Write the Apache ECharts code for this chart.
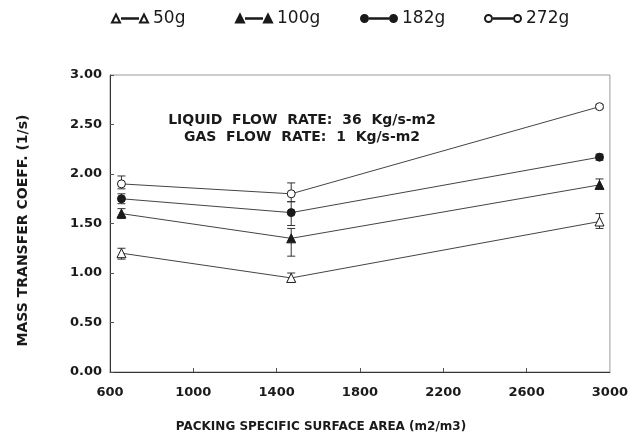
<!DOCTYPE html>
<html>
<head>
<meta charset="utf-8">
<script src="https://cdn.jsdelivr.net/npm/echarts@6/dist/echarts.min.js"></script>
<style>html,body{margin:0;padding:0;background:#fff;}#c{width:631px;height:438px;}</style>
</head>
<body>
<div id="c"></div>
<script>
// ---- data ----
const xValues = [655, 1470, 2950];
const xTickLabels = [600, 1000, 1400, 1800, 2200, 2600, 3000];
const xTickMarks = [1000, 1400, 1800, 2200, 2600];
const seriesNames = ['50g', '100g', '182g', '272g'];
const y50 = [1.20, 0.95, 1.52];
const y100 = [1.60, 1.35, 1.89];
const y182 = [1.75, 1.61, 2.17];
const y272 = [1.90, 1.80, 2.68];
const low50 = [1.14, 0.92, 1.45];
const high50 = [1.25, 1.00, 1.60];
const low100 = [1.55, 1.17, 1.85];
const high100 = [1.65, 1.45, 1.95];
const low182 = [1.70, 1.48, 2.14];
const high182 = [1.80, 1.72, 2.20];
const low272 = [1.85, 1.72, 2.66];
const high272 = [1.98, 1.91, 2.70];
const annotationLines = ['LIQUID  FLOW  RATE:  36  Kg/s-m2', 'GAS  FLOW  RATE:  1  Kg/s-m2'];

const FONT = 'DejaVu Sans';
const INK = '#1a1a1a';

function pts(ys) { return xValues.map((x, i) => [x, ys[i]]); }
function errs(lo, hi) { return xValues.map((x, i) => [x, lo[i], hi[i]]); }

const triPath = 'path://M0,10 L4,2 L8,10 Z M10,5.8 L26,5.8 L26,6.2 L10,6.2 Z M28,10 L32,2 L36,10 Z';
const cirPath = 'path://M0,6 A3.5,3.5 0 1,0 7,6 A3.5,3.5 0 1,0 0,6 Z M9,5.8 L27,5.8 L27,6.2 L9,6.2 Z M29,6 A3.5,3.5 0 1,0 36,6 A3.5,3.5 0 1,0 29,6 Z';

const styles = [
  { symbol: 'triangle', open: true, icon: triPath },
  { symbol: 'triangle', open: false, icon: triPath },
  { symbol: 'circle', open: false, icon: cirPath },
  { symbol: 'circle', open: true, icon: cirPath }
];
const legendLeft = [106, 230, 355, 479];
const ySets = [y50, y100, y182, y272];
const errSets = [errs(low50, high50), errs(low100, high100), errs(low182, high182), errs(low272, high272)];

function errorRender(params, api) {
  const x = api.value(0);
  const p1 = api.coord([x, api.value(1)]);
  const p2 = api.coord([x, api.value(2)]);
  const w = 4;
  const st = { stroke: '#333', lineWidth: 1 };
  return {
    type: 'group',
    children: [
      { type: 'line', shape: { x1: p1[0], y1: p1[1], x2: p2[0], y2: p2[1] }, style: st },
      { type: 'line', shape: { x1: p1[0] - w, y1: p1[1], x2: p1[0] + w, y2: p1[1] }, style: st },
      { type: 'line', shape: { x1: p2[0] - w, y1: p2[1], x2: p2[0] + w, y2: p2[1] }, style: st }
    ]
  };
}

const series = [];
seriesNames.forEach((name, i) => {
  const s = styles[i];
  series.push({
    name: name,
    type: 'line',
    data: pts(ySets[i]),
    symbol: s.symbol,
    symbolSize: s.symbol === 'triangle' ? 9 : 8,
    showAllSymbol: true,
    lineStyle: { color: '#444', width: 1 },
    itemStyle: s.open ? { color: '#fff', borderColor: INK, borderWidth: 1 } : { color: INK, borderColor: INK, borderWidth: 1 },
    z: 3,
    emphasis: { disabled: true }
  });
  series.push({
    name: name,
    type: 'custom',
    renderItem: errorRender,
    data: errSets[i],
    z: 2,
    silent: true
  });
});

const legends = seriesNames.map((n, i) => ({
  left: legendLeft[i],
  top: 5,
  itemWidth: 36,
  itemHeight: 9,
  itemGap: 0,
  selectedMode: false,
  data: [{ name: n, icon: styles[i].icon }],
  textStyle: { fontFamily: FONT, fontSize: 17, color: INK }
}));

const chart = echarts.init(document.getElementById('c'), null, { renderer: 'canvas' });
chart.setOption({
  animation: false,
  backgroundColor: '#fff',
  legend: legends,
  grid: {
    left: 110, right: 21, top: 75, bottom: 66,
    show: true, borderColor: '#9a9a9a', borderWidth: 1
  },
  xAxis: {
    type: 'value',
    min: 600, max: 3000, interval: 200,
    name: 'PACKING SPECIFIC SURFACE AREA (m2/m3)',
    nameLocation: 'middle',
    nameGap: 49,
    nameTextStyle: { fontFamily: FONT, fontSize: 12, fontWeight: 'bold', color: INK, padding: [0, 78, 0, 0] },
    axisLine: { show: true, lineStyle: { color: '#333', width: 1 } },
    axisTick: { show: true, inside: true, length: 4, customValues: xTickMarks, lineStyle: { color: '#555' } },
    axisLabel: { customValues: xTickLabels, margin: 14, fontFamily: FONT, fontSize: 13, fontWeight: 'bold', color: INK, formatter: v => String(v) },
    splitLine: { show: false }
  },
  yAxis: {
    type: 'value',
    min: 0, max: 3, interval: 0.5,
    name: 'MASS TRANSFER COEFF. (1/s)',
    nameLocation: 'middle',
    nameGap: 80,
    nameTextStyle: { fontFamily: FONT, fontSize: 14, fontWeight: 'bold', color: INK, padding: [0, 14, 0, 0] },
    axisLine: { show: true, lineStyle: { color: '#333', width: 1 } },
    axisTick: { show: true, inside: true, length: 4, lineStyle: { color: '#555' } },
    axisLabel: { margin: 8, fontFamily: FONT, fontSize: 13, fontWeight: 'bold', color: INK, formatter: v => v.toFixed(2) },
    splitLine: { show: false }
  },
  graphic: annotationLines.map((t, i) => ({
    type: 'text',
    x: 302,
    y: 113 + i * 17,
    style: {
      text: t,
      align: 'center',
      verticalAlign: 'top',
      fontFamily: FONT,
      fontSize: 14,
      fontWeight: 'bold',
      fill: INK
    }
  })),
  series: series
});
</script>
</body>
</html>
